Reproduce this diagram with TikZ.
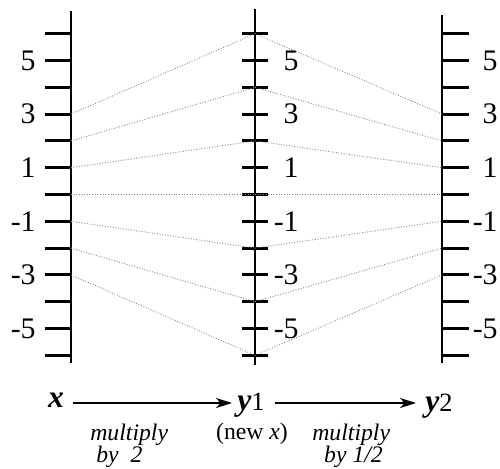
\documentclass[tikz,border=0pt]{standalone}
\usepackage{fontspec}
\setmainfont{Liberation Serif}
\usetikzlibrary{arrows.meta, positioning}

\newcommand\idx[1]{{\fontsize{15}{15}\selectfont\mdseries\upshape #1}}

\begin{document}
\begin{tikzpicture}[
    x=0.02cm, y=-0.02cm,
    axis/.style={line width=1.3pt},
    tick/.style={line width=1.8pt},
    map/.style={densely dotted, gray, line width=0.5pt},
    num/.style={font=\fontsize{17}{17}\selectfont, inner sep=0pt},
    var/.style={font=\fontsize{18}{18}\selectfont\bfseries\itshape, inner sep=0pt, anchor=base},
    note/.style={font=\fontsize{13.5}{11}\selectfont, align=left, inner sep=0pt},
    flow/.style={-{Stealth[length=0.32cm, width=0.2cm, inset=0.09cm]}, line width=0.9pt}
]
\useasboundingbox (0,0) rectangle (500,469);

% --- tick positions on the three scales ---
\foreach \k in {-6,...,6} {
    \coordinate (L\k) at (71, {194.5-26.8*\k});
    \coordinate (M\k) at (255, {194.5-26.8*\k});
    \coordinate (R\k) at (442, {194.5-26.8*\k});
}

% --- x scale (left) ---
\draw[axis] (71,11) -- (71,363);
\foreach \k in {-6,...,6}
    \draw[tick] (L\k) -- ++(-26,0);
\foreach \k in {-5,-3,...,5}
    \node[num, anchor=east] (xl\k) at (36, {194.5-26.8*\k}) {\k};

% --- y1 scale (middle) ---
\draw[axis] (255,9) -- (255,365);
\foreach \k in {-6,...,6}
    \draw[tick] ([xshift=-0.26cm]M\k) -- ([xshift=0.26cm]M\k);
\foreach \k in {-5,-3,...,5}
    \node[num, anchor=east] (ml\k) at (299, {194.5-26.8*\k}) {\k};

% --- y2 scale (right) ---
\draw[axis] (442,15) -- (442,363);
\foreach \k in {-6,...,6}
    \draw[tick] (R\k) -- ++(27,0);
\foreach \k in {-5,-3,...,5}
    \node[num, anchor=east] (rl\k) at (498, {194.5-26.8*\k}) {\k};

% --- dotted maps: x -> 2x -> x ---
\foreach \k [evaluate=\k as \d using int(2*\k)] in {-3,...,3} {
    \draw[map] (L\k) -- (M\d);
    \draw[map] (M\d) -- (R\k);
}

% --- bottom row ---
\coordinate (row) at (0,403);
\node[var] (x) at (56,407) {x};
\node[var] (y1) at (251,410) {y\idx{1}};
\node[var] (y2) at (439,411) {y\idx{2}};

\draw[flow, shorten <=0.18cm, shorten >=0.1cm] (x.east |- row) -- (y1.west |- row);
\draw[flow, shorten <=0.2cm, shorten >=0.18cm] (y1.east |- row) -- (y2.west |- row);

\node[note, anchor=north west, font=\fontsize{13.5}{11}\selectfont\itshape] (n1) at (90,424)
    {multiply\\[-1pt]\hspace{0.25em}by\ \ 2};
\node[note, anchor=north] (n0) at (252,423) {(new \textit{x})};
\node[note, anchor=north west, font=\fontsize{13.5}{11}\selectfont\itshape] (n2) at (312,424)
    {multiply\\[-1pt]\hspace{0.5em}by 1/2};

\end{tikzpicture}
\end{document}
